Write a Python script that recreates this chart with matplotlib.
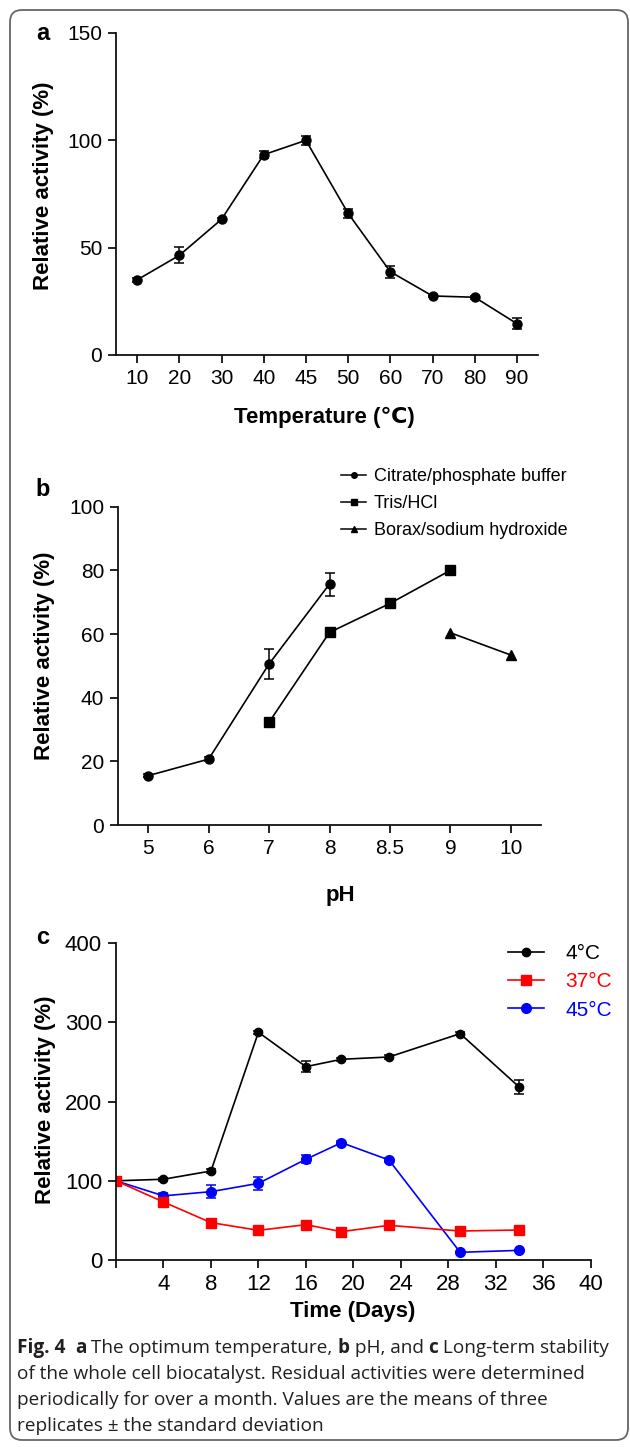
import matplotlib
matplotlib.use('Agg')
import matplotlib.pyplot as plt
from matplotlib.patches import FancyBboxPatch
from matplotlib.transforms import IdentityTransform
from matplotlib.lines import Line2D
from matplotlib.text import Annotation

plt.rcParams['font.family'] = ['Liberation Sans', 'DejaVu Sans']

# ---------------- data ----------------
# Panel a: temperature
temp_labels = ['10', '20', '30', '40', '45', '50', '60', '70', '80', '90']
temp_activity = [35.0, 46.4, 63.2, 93.3, 100.0, 66.0, 38.8, 27.5, 26.9, 14.6]
temp_err = [0.8, 3.7, 0.8, 1.6, 2.0, 2.0, 2.7, 0.6, 0.6, 2.5]

# Panel b: pH
ph_labels = ['5', '6', '7', '8', '8.5', '9', '10']
citrate_ph = ['5', '6', '7', '8']
citrate_act = [15.5, 20.7, 50.6, 75.7]
citrate_err = [0.5, 0.6, 4.6, 3.6]
tris_ph = ['7', '8', '8.5', '9']
tris_act = [32.3, 60.5, 69.6, 80.0]
borax_ph = ['9', '10']
borax_act = [60.4, 53.4]

# Panel c: long-term stability
days = [0, 4, 8, 12, 16, 19, 23, 29, 34]
act_4 = [100, 102, 112.4, 287.6, 244.2, 253.5, 256.4, 285.9, 218.1]
err_4 = [0, 2, 2, 2, 7, 2, 2, 2, 9]
act_37 = [100, 73.3, 47.2, 37.5, 44.6, 35.8, 43.8, 36.6, 37.9]
err_37 = [0, 2, 1, 1, 1, 1, 1, 1, 1]
act_45 = [100, 81, 86.3, 96.8, 127.2, 148.2, 126.3, 9.7, 12.2]
err_45 = [0, 4, 8, 8, 5, 2, 2, 1, 1]

# ---------------- figure ----------------
W, H = 630, 1447
fig = plt.figure(figsize=(W / 100, H / 100), dpi=100)


def fx(x):
    return x / W


def fy(y):
    return 1 - y / H


def add_axes(left, right, top, bottom):
    return fig.add_axes([fx(left), fy(bottom), fx(right - left), (bottom - top) / H])


def style(ax, labelsize=15):
    for s in ['top', 'right']:
        ax.spines[s].set_visible(False)
    for s in ['left', 'bottom']:
        ax.spines[s].set_linewidth(1.3)
        ax.spines[s].set_color('#111111')
    ax.tick_params(direction='out', length=6, width=1.3, labelsize=labelsize,
                   pad=4, color='#111111')


lab_kw = dict(fontsize=16, fontweight='bold', ha='center', va='center')

# Border
border = FancyBboxPatch((10, 7), 618, 1430, boxstyle='round,pad=0,rounding_size=12',
                        transform=IdentityTransform(), facecolor='none',
                        edgecolor='#666666', linewidth=1.3)
fig.patches.append(border)

# ---------- Panel a ----------
ax_a = add_axes(116, 538, 33, 355)
style(ax_a)
xa = list(range(len(temp_labels)))
ax_a.errorbar(xa, temp_activity, yerr=temp_err, color='black', marker='o', ms=6.5,
              lw=1.2, capsize=3.5, elinewidth=1.1, capthick=1.1, clip_on=False)
ax_a.set_xlim(-0.5, len(temp_labels) - 0.5)
ax_a.set_ylim(0, 150)
ax_a.set_yticks([0, 50, 100, 150])
ax_a.set_xticks(xa)
ax_a.set_xticklabels(temp_labels)
fig.text(fx(44), fy(186), 'Relative activity (%)', rotation=90, **lab_kw)
fig.text(fx(324), fy(417), 'Temperature (\u2103)', **lab_kw)
fig.text(fx(43), fy(33), 'a', fontsize=17, fontweight='bold', ha='center', va='center')

# ---------- Panel b ----------
ax_b = add_axes(118, 541, 506.7, 825)
style(ax_b)
pos = {p: i for i, p in enumerate(ph_labels)}
ax_b.errorbar([pos[p] for p in citrate_ph], citrate_act, yerr=citrate_err, color='black',
              marker='o', ms=6.5, lw=1.2, capsize=3.5, elinewidth=1.1, capthick=1.1)
ax_b.plot([pos[p] for p in tris_ph], tris_act, color='black', marker='s', ms=7, lw=1.2)
ax_b.plot([pos[p] for p in borax_ph], borax_act, color='black', marker='^', ms=7, lw=1.2)
ax_b.set_xlim(-0.5, len(ph_labels) - 0.5)
ax_b.set_ylim(0, 100)
ax_b.set_yticks([0, 20, 40, 60, 80, 100])
ax_b.set_xticks(range(len(ph_labels)))
ax_b.set_xticklabels(ph_labels)
fig.text(fx(45), fy(656), 'Relative activity (%)', rotation=90, **lab_kw)
fig.text(fx(340), fy(895), 'pH', **lab_kw)
fig.text(fx(43), fy(490), 'b', fontsize=17, fontweight='bold', ha='center', va='center')

hb = [Line2D([], [], color='black', marker='o', ms=4, lw=1.1),
      Line2D([], [], color='black', marker='s', ms=4, lw=1.1),
      Line2D([], [], color='black', marker='^', ms=4, lw=1.1)]
fig.legend(hb, ['Citrate/phosphate buffer', 'Tris/HCl', 'Borax/sodium hydroxide'],
           loc='upper left', bbox_to_anchor=(fx(341), fy(468)), frameon=False,
           fontsize=13, handlelength=1.4, handletextpad=0.4, labelspacing=0.55,
           borderpad=0, borderaxespad=0)

# ---------- Panel c ----------
ax_c = add_axes(116, 590.7, 943.3, 1260)
style(ax_c, labelsize=16)
ax_c.errorbar(days, act_4, yerr=err_4, color='black', marker='o', ms=6, lw=1.2,
              capsize=3.5, elinewidth=1.1, capthick=1.1)
ax_c.errorbar(days, act_45, yerr=err_45, color='#0000ff', marker='o', ms=7, lw=1.2,
              capsize=3.5, elinewidth=1.1, capthick=1.1)
ax_c.errorbar(days, act_37, yerr=err_37, color='#ff0000', marker='s', ms=7, lw=1.2,
              capsize=3.5, elinewidth=1.1, capthick=1.1)
ax_c.set_xlim(0, 40)
ax_c.set_ylim(0, 400)
ax_c.set_yticks([0, 100, 200, 300, 400])
ax_c.set_xticks(range(0, 41, 4))
ax_c.set_xticklabels([''] + [str(v) for v in range(4, 41, 4)])
fig.text(fx(46), fy(1100), 'Relative activity (%)', rotation=90, **lab_kw)
fig.text(fx(353), fy(1312), 'Time (Days)', **lab_kw)
fig.text(fx(43), fy(938), 'c', fontsize=17, fontweight='bold', ha='center', va='center')

hc = [Line2D([], [], color='black', marker='o', ms=6, lw=1.2),
      Line2D([], [], color='#ff0000', marker='s', ms=7, lw=1.2),
      Line2D([], [], color='#0000ff', marker='o', ms=7, lw=1.2)]
leg_c = fig.legend(hc, ['4\u00b0C', '37\u00b0C', '45\u00b0C'],
                   loc='upper left', bbox_to_anchor=(fx(508), fy(944)), frameon=False,
                   fontsize=15, handlelength=1.75, handletextpad=1.0, labelspacing=0.45,
                   borderpad=0, borderaxespad=0)
for t, c in zip(leg_c.get_texts(), ['black', '#ff0000', '#0000ff']):
    t.set_color(c)

# ---------- Caption ----------
cap_font = ['Open Sans', 'DejaVu Sans']
cap_size = 13.7
caption_lines = [
    [('Fig. 4', True), ('  ', False), ('a', True), (' The optimum temperature, ', False),
     ('b', True), (' pH, and ', False), ('c', True), (' Long-term stability', False)],
    [('of the whole cell biocatalyst. Residual activities were determined', False)],
    [('periodically for over a month. Values are the means of three', False)],
    [('replicates \u00b1 the standard deviation', False)],
]
cap_y = [1353, 1379, 1405, 1431]
for segs, yy in zip(caption_lines, cap_y):
    prev = None
    for txt, bold in segs:
        kw = dict(fontsize=cap_size, family=cap_font, color='#231f20',
                  fontweight='bold' if bold else 'normal', va='baseline', ha='left')
        if prev is None:
            prev = fig.text(fx(17), fy(yy), txt, **kw)
        else:
            prev = fig.add_artist(Annotation(txt, xy=(1, fy(yy)),
                                             xycoords=(prev, 'figure fraction'), **kw))

fig.savefig('out.png', dpi=100)
